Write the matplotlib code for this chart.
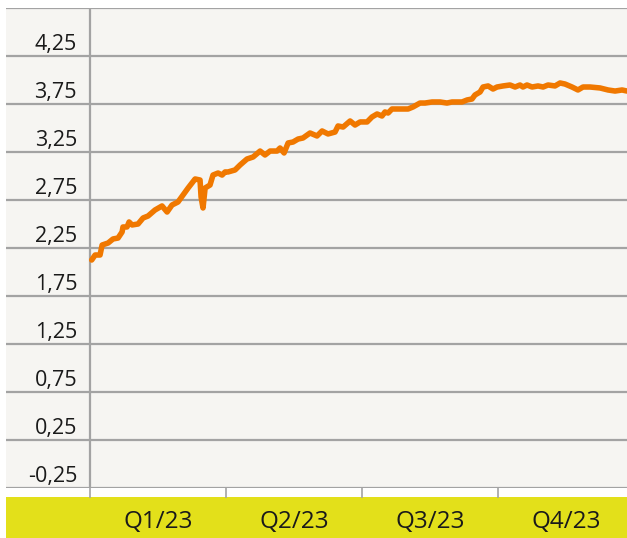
import matplotlib
matplotlib.use("Agg")
import matplotlib.pyplot as plt
from matplotlib.patches import Rectangle
import matplotlib.transforms as mtransforms

plt.rcParams['font.family'] = ['Open Sans', 'DejaVu Sans']

# Day offset from 1 Jan 2023 and value
days = [1.1, 3.4, 6.7, 8.1, 12.1, 15.4, 18.8, 21.5, 22.1, 24.8, 26.2, 28.2, 32.2, 35.6,
        38.9, 43.6, 48.3, 51.7, 55.0, 59.0, 62.4, 65.8, 68.4, 70.5, 73.8, 74.5, 75.8,
        77.2, 80.5, 82.5, 85.9, 88.6, 90.6, 92.6, 97.3, 100.7, 105.3, 109.4, 114.1,
        117.4, 120.8, 125.5, 127.5, 130.2, 132.9, 136.2, 139.6, 142.9, 147.6, 152.3,
        155.7, 159.7, 164.4, 166.4, 169.8, 174.5, 177.8, 181.2, 185.9, 189.2, 192.6,
        195.9, 197.9, 200.0, 202.6, 206.7, 213.4, 216.7, 221.4, 224.8, 229.5, 234.9,
        239.5, 242.9, 249.6, 253.0, 256.3, 258.3, 261.7, 263.7, 267.1, 270.4, 273.1,
        277.1, 281.8, 285.2, 288.5, 290.5, 293.2, 296.6, 300.6, 304.0, 307.3, 312.0,
        315.4, 318.7, 323.4, 327.4, 330.8, 335.5, 342.2, 347.6, 352.3, 357.0, 360.3]
values = [2.125, 2.177, 2.177, 2.281, 2.302, 2.344, 2.354, 2.417, 2.469, 2.469, 2.521,
          2.490, 2.500, 2.563, 2.583, 2.646, 2.688, 2.625, 2.698, 2.729, 2.802, 2.875,
          2.927, 2.969, 2.958, 2.781, 2.667, 2.875, 2.906, 3.010, 3.031, 3.010, 3.042,
          3.042, 3.063, 3.115, 3.177, 3.198, 3.260, 3.219, 3.260, 3.260, 3.292, 3.240,
          3.344, 3.354, 3.385, 3.396, 3.448, 3.417, 3.469, 3.438, 3.458, 3.521, 3.510,
          3.573, 3.531, 3.563, 3.563, 3.615, 3.646, 3.625, 3.667, 3.656, 3.698, 3.698,
          3.698, 3.719, 3.760, 3.760, 3.771, 3.771, 3.760, 3.771, 3.771, 3.792, 3.802,
          3.844, 3.875, 3.927, 3.938, 3.906, 3.927, 3.938, 3.948, 3.927, 3.948, 3.927,
          3.948, 3.927, 3.938, 3.927, 3.948, 3.938, 3.969, 3.958, 3.927, 3.896, 3.927,
          3.927, 3.917, 3.896, 3.885, 3.896, 3.885]

quarter_starts = [0, 91.25, 182.5, 273.75]
quarter_labels = ["Q1/23", "Q2/23", "Q3/23", "Q4/23"]
ytick_values = [-0.25, 0.25, 0.75, 1.25, 1.75, 2.25, 2.75, 3.25, 3.75, 4.25]
ytick_labels = ["-0,25", "0,25", "0,75", "1,25", "1,75", "2,25", "2,75", "3,25", "3,75", "4,25"]

W, H = 627, 538
fig = plt.figure(figsize=(W / 100, H / 100), dpi=100)
fig.patch.set_facecolor('white')

# yellow band at the bottom
band = Rectangle((6 / W, 0), 621 / W, 41 / H, transform=fig.transFigure,
                 facecolor='#e3e01a', edgecolor='none', zorder=0)
fig.add_artist(band)

ax = fig.add_axes([6 / W, 50 / H, 621 / W, 480 / H])
ax.set_facecolor('#f6f5f2')
ax.set_xlim(-56.4, 360.3)
ax.set_ylim(-0.25, 4.75)

grid_color = '#a3a3a3'
for y in ytick_values + [4.75]:
    ax.axhline(y, color=grid_color, lw=1.6, zorder=1)
ax.axvline(0, color=grid_color, lw=1.6, zorder=1)

for s in ax.spines.values():
    s.set_visible(False)

ax.set_yticks([])
ax.set_xticks(quarter_starts)
ax.set_xticklabels([])
ax.tick_params(axis='x', direction='out', length=7, width=1.2, color=grid_color)

for v, lab in zip(ytick_values, ytick_labels):
    ax.annotate(lab, xy=(0, v), xytext=(-13, 1), textcoords='offset pixels',
                ha='right', va='bottom', fontsize=15.5, color='#1a1a1a')

xlab_tr = mtransforms.blended_transform_factory(ax.transData, fig.transFigure)
for q, lab in zip(quarter_starts, quarter_labels):
    fig.text(q + 45.6, 16 / H, lab, transform=xlab_tr, ha='center', va='center',
             fontsize=17.5, color='#1a1a1a', zorder=5)

ax.plot(days, values, color='#f07800', lw=4.0, solid_joinstyle='round',
        solid_capstyle='round', zorder=3)

fig.savefig('out.png', dpi=100)
